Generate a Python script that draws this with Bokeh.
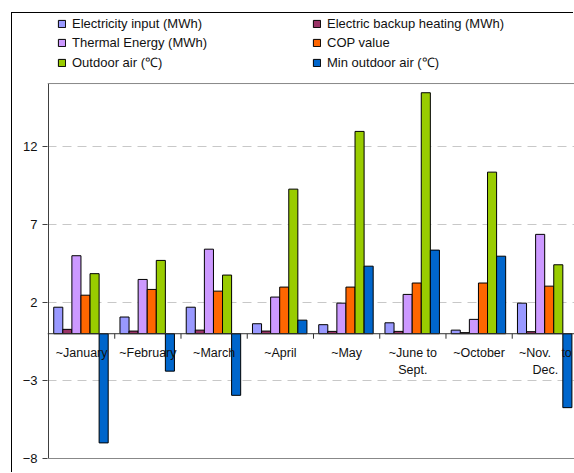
from bokeh.plotting import figure
from bokeh.models import Range1d, FixedTicker, Legend, LegendItem, Span
from bokeh.core.properties import value
from bokeh.embed import file_html
from bokeh.resources import INLINE

categories = ["~January", "~February", "~March", "~April", "~May",
              "~June to\nSept.", "~October", "~Nov. \u00a0\u00a0to\nDec."]
electricity_input = [1.70, 1.07, 1.70, 0.64, 0.58, 0.70, 0.23, 1.96]
backup_heating = [0.28, 0.17, 0.23, 0.17, 0.15, 0.15, 0.07, 0.13]
thermal_energy = [5.00, 3.48, 5.42, 2.35, 1.96, 2.52, 0.92, 6.37]
cop_value = [2.47, 2.84, 2.73, 2.99, 2.99, 3.25, 3.25, 3.05]
outdoor_air = [3.85, 4.70, 3.76, 9.27, 12.97, 15.45, 10.36, 4.42]
min_outdoor_air = [-7.00, -2.40, -3.95, 0.87, 4.33, 5.36, 4.97, -4.74]
y_ticks = [-8, -3, 2, 7, 12]
y_min, y_max = -8, 16.04

series_names = ["Electricity input (MWh)", "Electric backup heating (MWh)",
                "Thermal Energy (MWh)", "COP value",
                "Outdoor air (\u2103)", "Min outdoor air (\u2103)"]
series_values = [electricity_input, backup_heating, thermal_energy,
                 cop_value, outdoor_air, min_outdoor_air]
series_colors = ["#9999FF", "#993366", "#CC99FF", "#FF6600", "#99CC00", "#0066CC"]

FONT = "Liberation Sans"
n = len(categories)
bw = 0.137

p = figure(width=562, height=460,
           x_range=Range1d(-0.0151, 7.94), y_range=Range1d(-8.064, 20.53),
           output_backend="svg", toolbar_location=None,
           min_border_left=35, min_border_right=0,
           min_border_bottom=14, min_border_top=0)
p.margin = (13, 0, 0, 12)
p.styles = {"box-shadow": "-1px -1px 0 0 #000000"}
p.background_fill_color = "white"
p.border_fill_color = "white"
p.outline_line_color = None

p.xaxis.visible = False
p.xgrid.visible = False
p.ygrid.ticker = FixedTicker(ticks=y_ticks)
p.ygrid.grid_line_color = "#c8c8c8"
p.ygrid.grid_line_dash = "9 6"

yax = p.yaxis[0]
yax.ticker = FixedTicker(ticks=y_ticks)
yax.axis_line_color = None
yax.major_tick_line_color = "#404040"
yax.major_tick_out = 5
yax.major_tick_in = 0
yax.minor_tick_line_color = None
yax.major_label_standoff = 5
yax.major_label_text_font = FONT
yax.major_label_text_font_size = "13px"
yax.major_label_text_color = "#111111"

# plot-area borders
p.add_layout(Span(location=y_max, dimension="width", line_color="#888888", line_width=1))
p.add_layout(Span(location=y_min, dimension="width", line_color="#888888", line_width=1))
p.segment(x0=[0], y0=[y_min], x1=[0], y1=[y_max], line_color="#404040", line_width=1)

items = []
for k, (name, vals, color) in enumerate(zip(series_names, series_values, series_colors)):
    xs = [i + 0.49 + (k - 2.5) * bw for i in range(n)]
    r = p.vbar(x=xs, top=vals, bottom=0, width=bw, fill_color=color,
               line_color="#000000", line_width=1)
    items.append(LegendItem(label=name, renderers=[r]))

p.add_layout(Span(location=0, dimension="width", line_color="#303030", line_width=1))
bounds = list(range(1, n))
p.segment(x0=bounds, y0=[0] * len(bounds), x1=bounds, y1=[-0.32] * len(bounds),
          line_color="#303030", line_width=1)

p.text(x=[i + 0.5 for i in range(n)], y=[0] * n, text=categories,
       text_align="center", text_baseline="top", y_offset=12,
       text_font=value(FONT), text_font_size="12.5px", text_color="#111111",
       text_line_height=1.22)

legend = Legend(items=items, location=(10, 388), orientation="horizontal", ncols=2,
                margin=0, padding=0, spacing=3, label_standoff=6,
                glyph_width=9, glyph_height=9, label_height=16, label_width=237,
                label_text_font=FONT, label_text_font_size="13px",
                label_text_color="#111111", border_line_color=None,
                background_fill_alpha=0)
p.add_layout(legend, "center")

open("out.html", "w").write(file_html(p, INLINE))
